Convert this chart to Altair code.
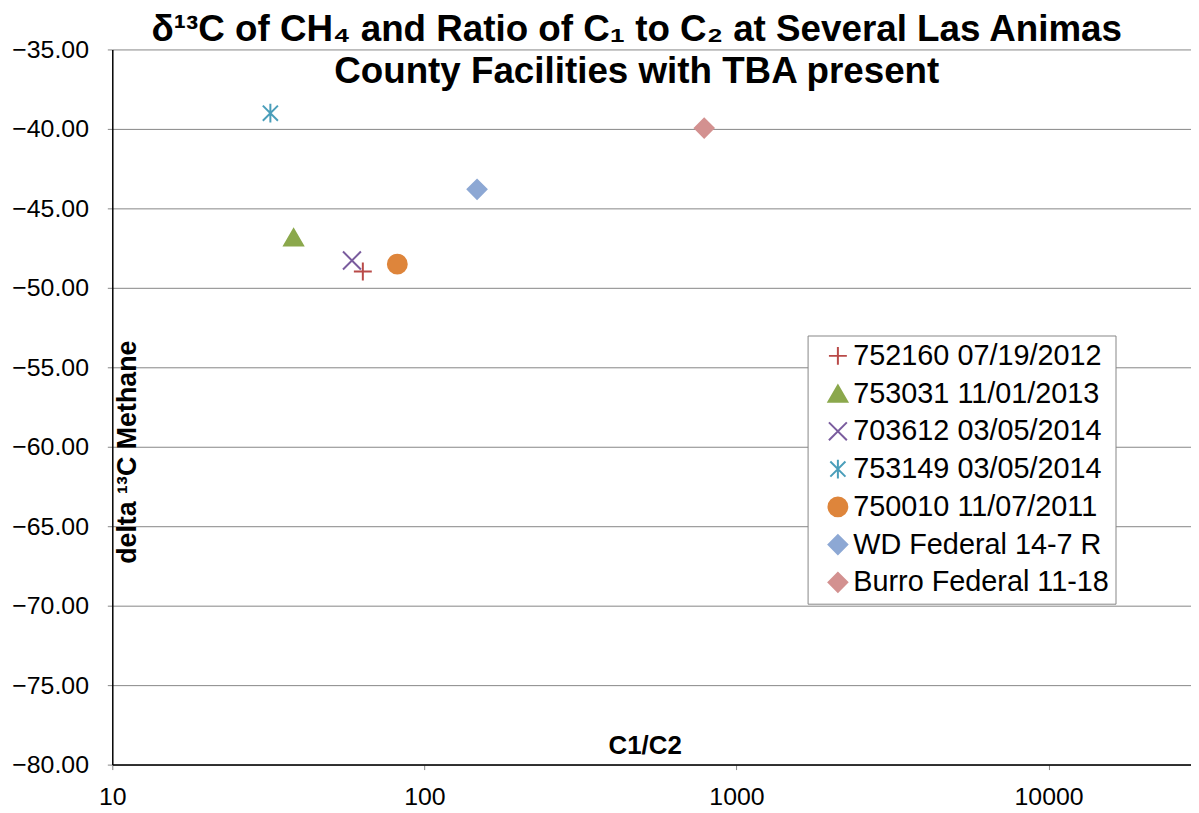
import altair as alt
import pandas as pd

series = [
    "752160 07/19/2012",
    "753031 11/01/2013",
    "703612 03/05/2014",
    "753149 03/05/2014",
    "750010 11/07/2011",
    "WD Federal 14-7 R",
    "Burro Federal 11-18",
]
c1_c2 = [63.5, 38.1, 58.6, 32.1, 81.9, 147.5, 788.0]
delta13c = [-48.97, -46.83, -48.28, -39.01, -48.51, -43.80, -39.95]

colors = ["#B94A48", "#8BA84C", "#7A5C9E", "#4A9EBA", "#DE853B", "#8DA8D4", "#D39190"]
shapes = [
    "M-0.95,0H0.95M0,-0.95V0.95",
    "triangle-up",
    "M-0.95,-0.95L0.95,0.95M-0.95,0.95L0.95,-0.95",
    "M-0.8,-0.8L0.8,0.8M-0.8,0.8L0.8,-0.8M0,-1V1",
    "circle",
    "diamond",
    "diamond",
]

x_ticks = [10, 100, 1000, 10000]
y_ticks = [-35, -40, -45, -50, -55, -60, -65, -70, -75, -80]

title_lines = [
    "δ¹³C of CH₄ and Ratio of C₁ to C₂ at Several Las Animas",
    "County Facilities with TBA present",
]

df = pd.DataFrame({"series": series, "ratio": c1_c2, "delta": delta13c})

FONT = "Arial, Liberation Sans"

legend = alt.Legend(
    title=None,
    orient="none",
    legendX=700,
    legendY=288,
    fillColor="white",
    strokeColor="#868686",
    padding=6,
    symbolOffset=10,
    symbolSize=361,
    symbolStrokeWidth=2,
    labelFontSize=29,
    labelFont=FONT,
    labelColor="black",
    labelOffset=1,
    rowPadding=8,
    labelLimit=400,
)

color_scale = alt.Scale(domain=series, range=colors)
shape_scale = alt.Scale(domain=series, range=shapes)

chart = (
    alt.Chart(df)
    .mark_point(filled=True, size=361, strokeWidth=2, opacity=1)
    .encode(
        x=alt.X(
            "ratio:Q",
            scale=alt.Scale(type="log", domain=[10, 28600], nice=False),
            axis=alt.Axis(
                values=x_ticks,
                format="d",
                grid=False,
                domainColor="black",
                domainWidth=1.5,
                tickColor="#868686",
                tickSize=5,
                labelFontSize=25,
                labelFont=FONT,
                labelColor="black",
                labelPadding=15,
                labelFlush=False,
                title="C1/C2",
                titleFontSize=26,
                titleFont=FONT,
                titleFontWeight="bold",
                titleColor="black",
                titleX=536,
                titleY=-19,
                titleAlign="center",
                titleBaseline="middle",
            ),
        ),
        y=alt.Y(
            "delta:Q",
            scale=alt.Scale(domain=[-80, -35], nice=False, zero=False),
            axis=alt.Axis(
                values=y_ticks,
                format=".2f",
                grid=True,
                gridColor="#868686",
                gridWidth=1,
                domainColor="black",
                domainWidth=1.5,
                tickColor="#868686",
                tickSize=5,
                labelFontSize=25,
                labelFont=FONT,
                labelColor="black",
                labelPadding=19,
                labelFlush=False,
                title="delta ¹³C Methane",
                titleFontSize=27,
                titleFont=FONT,
                titleFontWeight="bold",
                titleColor="black",
                titleX=15,
                titleY=405,
                titleAngle=270,
                titleAlign="center",
                titleBaseline="middle",
            ),
        ),
        fill=alt.Fill("series:N", scale=color_scale, sort=series, legend=legend),
        stroke=alt.Stroke("series:N", scale=color_scale, sort=series, legend=legend),
        shape=alt.Shape("series:N", scale=shape_scale, sort=series, legend=legend),
    )
    .properties(
        width=1086,
        height=720,
        autosize=alt.AutoSizeParams(type="none"),
        padding={"left": 105, "top": 39, "right": 0, "bottom": 46},
        title=alt.TitleParams(
            text=title_lines,
            fontSize=37,
            font=FONT,
            fontWeight="bold",
            color="black",
            lineHeight=43,
            anchor="middle",
            frame="group",
            offset=-54,
            dx=-15,
        ),
    )
    .configure_view(strokeWidth=0)
)

chart.save("out.html", embed_options={"renderer": "svg", "actions": False})
